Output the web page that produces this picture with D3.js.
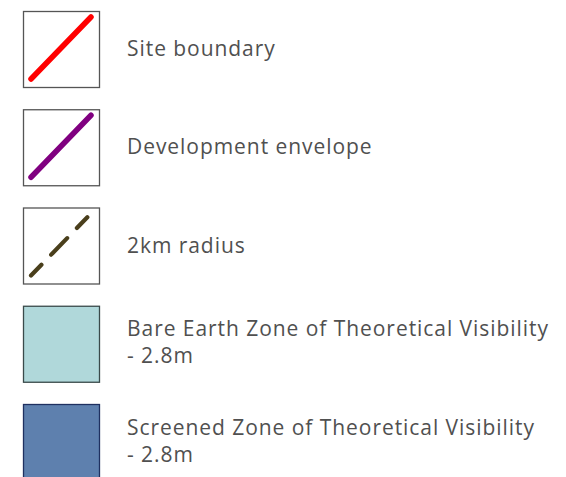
<!DOCTYPE html>
<html><head><meta charset="utf-8">
<script src="https://cdn.jsdelivr.net/npm/d3@7"></script>
<style>html,body{margin:0;padding:0;background:#fff;overflow:hidden}</style>
</head><body><svg id="c" width="566" height="477"></svg>
<script>
const labels = [
  ["Site boundary"],
  ["Development envelope"],
  ["2km radius"],
  ["Bare Earth Zone of Theoretical Visibility", "- 2.8m"],
  ["Screened Zone of Theoretical Visibility", "- 2.8m"]
];
const symbolTypes = ["line", "line", "dash", "fill", "fill"];
const symbolColors = ["#ff0000", "#800080", "#4a3f1c", "#b0d8da", "#5e80ae"];
const borderColors = ["#555555", "#555555", "#555555", "#3a4a4a", "#1f3060"];

const svg = d3.select("#c");
const y = d3.scaleBand().domain(d3.range(labels.length)).range([11, 11 + 98.25 * 5]).paddingInner(0).paddingOuter(0);
const boxX = 23, boxS = 76;
const g = svg.selectAll("g.item").data(labels.map((l, i) => ({l, i}))).join("g")
  .attr("class", "item").attr("transform", d => `translate(0,${y(d.i)})`);

g.append("rect").attr("x", boxX + 0.5).attr("y", 0.5).attr("width", boxS).attr("height", boxS)
  .attr("fill", d => symbolTypes[d.i] === "fill" ? symbolColors[d.i] : "#fff")
  .attr("stroke", d => borderColors[d.i]).attr("stroke-width", 1.3);

g.filter(d => symbolTypes[d.i] !== "fill").append("line")
  .attr("x1", boxX + 8).attr("y1", 68).attr("x2", boxX + 68).attr("y2", 6)
  .attr("stroke", d => symbolColors[d.i])
  .attr("stroke-width", d => symbolTypes[d.i] === "dash" ? 4.2 : 5.5)
  .attr("stroke-linecap", "round")
  .attr("stroke-dasharray", d => symbolTypes[d.i] === "dash" ? "15,14,23,14,15,40" : null);

const fs = 21;
g.each(function(d) {
  const n = d.l.length;
  const lineH = 27;
  const base0 = 38 + 7 - (n - 1) * lineH / 2 + (n > 1 ? -1 : 0);
  d3.select(this).selectAll("text").data(d.l).join("text")
    .attr("x", 127).attr("y", (t, j) => base0 + j * lineH)
    .attr("font-family", "'Open Sans', sans-serif")
    .attr("font-size", fs).attr("fill", "#505050")
    .text(t => t);
});
// fit letter spacing so the longest line spans the same width as in the reference
const longest = svg.selectAll("text").filter(t => t === labels[3][0]).node();
const w = longest.getComputedTextLength();
const target = 421;
const ls = (target - w) / (labels[3][0].length - 1);
svg.selectAll("text").attr("letter-spacing", ls);
</script></body></html>
